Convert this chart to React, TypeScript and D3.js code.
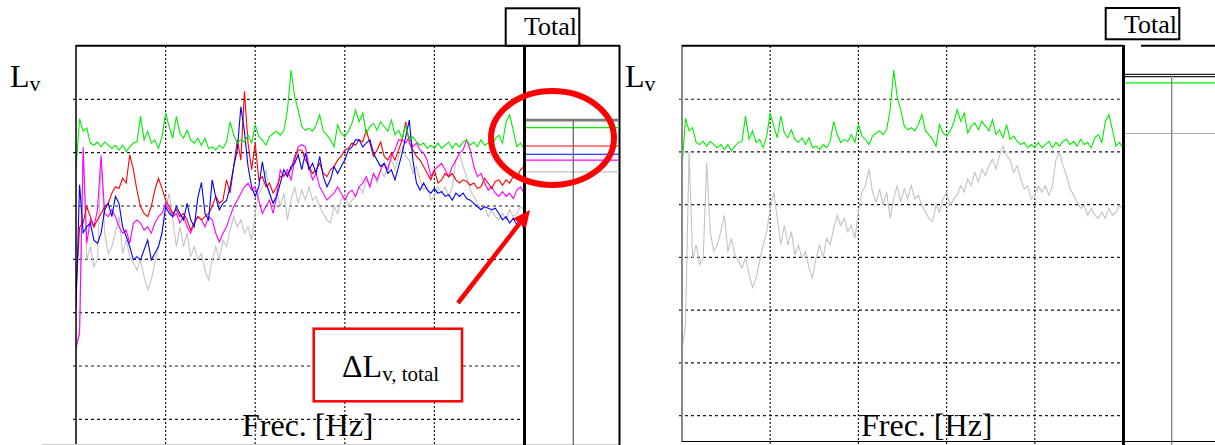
import React from 'react';
import * as d3 from 'd3';

// frequency axis (Hz), 4 Hz resolution
const freqs: number[] = d3.range(126).map((i) => i * 4);
const freqGrid = [100, 200, 300, 400];
const levelGrid = [10, 20, 30, 40, 50, 60, 70];

const green = [
  57, 66.4, 64, 64.6, 61.8, 61.4, 62, 61.1, 62, 61.4,
  60.8, 61.4, 60.5, 61.4, 60.2, 61.1, 61.8, 62, 66.8, 62.4,
  64, 61.8, 62.4, 60.8, 63, 67.4, 64.9, 62.7, 66.8, 63.6,
  62.7, 64.2, 62.4, 61.8, 62.7, 61.4, 62.7, 60.8, 61.1, 60.5,
  61.4, 60.8, 62, 65.8, 63.3, 61.8, 62.4, 62, 63.3, 61.8,
  65.2, 63, 62.4, 61.4, 63, 63.6, 64, 63.3, 64.2, 68,
  75.5, 70.5, 68, 64.9, 64.2, 64.6, 64, 65.2, 67.1, 64,
  63.3, 62.4, 61.1, 65.2, 63.6, 63, 64, 65.5, 68, 65.8,
  67.4, 63.6, 64.9, 65.5, 64.2, 65.8, 64.9, 64, 66.1, 63.3,
  64.2, 62.7, 65.2, 62.4, 63, 62, 61.4, 61.8, 60.8, 61.4,
  60.8, 61.8, 60.8, 61.4, 62, 60.8, 61.8, 61.1, 62, 62.4,
  61.4, 62, 61.1, 62.4, 61.4, 61.8, 60.8, 62.7, 63.3, 61.8,
  65.8, 67.1, 64.2, 61.1, 61.8, 60.8,
];

const red = [
  34, 46, 46.8, 49.9, 48, 46.1, 47.4, 48.6, 49.9, 50.5,
  52.4, 53.6, 53.3, 55.2, 54.3, 59.6, 56.8, 53, 49.9, 48.6,
  48, 49.9, 53, 55.2, 53.3, 51.1, 49.9, 48.6, 49.3, 48,
  48.6, 47.4, 45.5, 46.8, 48, 47.4, 48, 48.6, 49.9, 51.8,
  50.5, 51.1, 54.9, 52.4, 57.4, 62.4, 58.6, 71.5, 61.8, 56.8,
  61.8, 54.9, 55.5, 53.6, 54.3, 52.4, 53.6, 55.5, 55.8, 56.1,
  56.8, 59.3, 60.5, 60.5, 58.6, 57.4, 56.1, 56.8, 58, 56.1,
  55.5, 56.8, 57.4, 58.6, 59.3, 60.5, 60.8, 61.8, 61.4, 62.4,
  62, 64.2, 61.8, 59.3, 60.5, 62, 59.3, 58.6, 59.9, 58.6,
  60.5, 62.4, 65.8, 61.8, 60.5, 59.3, 58.6, 57.4, 56.1, 54.9,
  56.8, 54.3, 54.9, 56.1, 55.5, 56.1, 54.9, 54.3, 54.9, 54.6,
  53.9, 54.3, 53.3, 53.6, 55.2, 54.3, 53.3, 54.6, 54.9, 53.9,
  54.9, 54.3, 55.5, 55.2, 56.8, 57.4,
];

const blue = [
  31, 54, 45, 46.1, 46.8, 43.6, 43, 44.9, 49.3, 50.5,
  48, 51.8, 50.5, 46.1, 44.3, 42.4, 39.9, 40.5, 39.9, 41.8,
  43.6, 39.9, 41.1, 42.4, 44.9, 49.9, 48.6, 48, 49.9, 48.6,
  47.4, 50.5, 47.4, 46.1, 51.6, 54.4, 48.6, 47.4, 54.9, 51.6,
  49.3, 50.5, 51, 53.6, 57.4, 60.5, 68.6, 64, 57.4, 53.6,
  51.8, 53.6, 58.3, 54.3, 52.4, 50.5, 51.8, 54.3, 56.8, 55.5,
  57.4, 58, 59.6, 56.8, 59.9, 56.8, 58, 56.1, 59.3, 55.5,
  53.6, 54.9, 57.4, 56.1, 57.4, 58.6, 60.5, 61.1, 62.4, 62.4,
  61.1, 61.8, 62.4, 59.9, 58.6, 57.4, 58, 56.1, 56.8, 54.9,
  57.4, 59.9, 63, 66.1, 58.6, 54.3, 53, 54.3, 53, 52.4,
  53.3, 52.4, 52.7, 51.8, 52.1, 51.1, 52.4, 51.8, 52.4, 51.4,
  51.1, 50.5, 49.9, 49.3, 49.9, 49.6, 49.3, 49.6, 48.6, 47.4,
  48, 46.8, 47.7, 46.5, 47.8, 45.5,
];

const magenta = [
  23.6, 26.1, 61, 43, 47.4, 46.1, 49.3, 59.5, 48.6, 48,
  49.3, 48, 46.1, 44.9, 45.5, 43, 46.8, 47.4, 46.8, 45.5,
  46.1, 44.9, 46.8, 48, 48.6, 50.5, 49.3, 48, 48.6, 46.8,
  48, 46.1, 44.9, 46.8, 48, 47.4, 46.1, 48, 47.4, 44.9,
  43.3, 44.9, 46.1, 48, 49.9, 51.1, 52.4, 53.6, 54.3, 53,
  53.6, 51.1, 48.6, 49.9, 51.1, 48.6, 51.8, 56.8, 55.5, 56.8,
  54.9, 58.6, 61.1, 61.5, 61.1, 57.4, 54.9, 56.1, 53.6, 52.4,
  51.1, 51.8, 52.4, 53.6, 52.4, 51.1, 52.4, 53, 51.8, 53.6,
  54.3, 55.5, 53.6, 56.1, 54.9, 56.8, 58, 56.8, 59.3, 60.5,
  62.4, 62.4, 61.8, 63, 61.1, 61.8, 60.5, 59.9, 58.6, 55.5,
  56.8, 57.4, 58, 56.8, 55.5, 57.4, 58.6, 59.9, 60.5, 62.4,
  60.5, 57.4, 55.5, 56.1, 54.3, 53, 53.6, 52.4, 51.8, 52.7,
  51.8, 52.4, 51.4, 53, 53.6, 52.4,
];

const gray = [
  22.4, 27.4, 60, 39.9, 42.4, 38.6, 39.9, 58, 44.9, 41.1,
  42.4, 44.9, 48, 41.1, 43.6, 40.5, 39.3, 38, 39.9, 36.8,
  34.3, 36.1, 39.3, 42.4, 44.9, 49.3, 52.4, 47.4, 42.4, 46.1,
  42.4, 44.9, 40.5, 42.4, 39.9, 41.1, 38, 36.1, 39.9, 42.4,
  39.9, 43.6, 42.4, 45.5, 48, 46.1, 47.4, 44.9, 46.1, 43.6,
  48.6, 52.4, 53.6, 56.8, 52.4, 50.5, 53, 49.9, 52.4, 47.4,
  51.1, 53.6, 50.5, 53, 51.1, 53.6, 51.1, 51.8, 49.9, 48.6,
  47.4, 46.8, 49.9, 48.6, 51.1, 52.4, 49.9, 51.1, 51.8, 53.6,
  52.4, 54.9, 53.6, 56.1, 54.3, 56.8, 55.5, 57.4, 58.6, 56.8,
  59.3, 61.1, 59.3, 58.6, 56.1, 57.4, 54.9, 53, 53.6, 51.1,
  51.8, 53.6, 52.4, 53.6, 51.8, 53.6, 58.6, 59.9, 57.4, 55.5,
  53, 51.8, 50.5, 49.3, 49.9, 48, 49.3, 48, 47.4, 48.6,
  47.4, 49.3, 48, 48.6, 49.9, 49.3,
];

// overall ("Total") levels shown in the side strips
const totalKeysLeft = ['ref', 'green', 'red', 'blue', 'magenta', 'gray'];
const totalValsLeft = [66.1, 64.7, 61.25, 59.7, 58.6, 56.4];
const totalKeysRight = ['ref', 'green', 'gray'];
const totalValsRight = [74.5, 73.1, 63.5];

const colors: Record<string, string> = {
  green: '#00ee00',
  red: '#ff0000',
  blue: '#0000ff',
  magenta: '#ff00ff',
  gray: '#c3c3c3',
  ref: '#7a7a7a',
};

const leftSeries = [
  { key: 'gray', values: gray },
  { key: 'magenta', values: magenta },
  { key: 'red', values: red },
  { key: 'blue', values: blue },
  { key: 'green', values: green },
];
const rightSeries = [
  { key: 'gray', values: gray },
  { key: 'green', values: green },
];

const FONT = "'Liberation Serif','Times New Roman',serif";

export default function App() {
  const W = 1215;
  const H = 445;
  const xL = d3.scaleLinear().domain([0, 500]).range([76, 524]);
  const yL = d3.scaleLinear().domain([5, 80]).range([446, 46]);
  const xR = d3.scaleLinear().domain([0, 500]).range([682, 1123]);
  const yR = d3.scaleLinear().domain([5, 80]).range([442, 46.5]);

  const mkLine = (x: d3.ScaleLinear<number, number>, y: d3.ScaleLinear<number, number>) =>
    d3
      .line<number>()
      .x((_, i) => x(freqs[i]))
      .y((d) => y(d));
  const lineL = mkLine(xL, yL);
  const lineR = mkLine(xR, yR);

  // arrow geometry (annotation)
  const a0 = [458, 303];
  const tip = [530, 210];
  const dx = tip[0] - a0[0];
  const dy = tip[1] - a0[1];
  const len = Math.hypot(dx, dy);
  const ux = dx / len;
  const uy = dy / len;
  const hl = 17;
  const hw = 8;
  const bx = tip[0] - ux * hl;
  const by = tip[1] - uy * hl;
  const head = `${tip[0]},${tip[1]} ${bx + uy * hw},${by - ux * hw} ${bx - uy * hw},${by + ux * hw}`;

  const gridStroke = '#1a1a1a';

  return (
    <svg
      width={W}
      height={H}
      style={{ position: 'absolute', left: 0, top: 0, background: '#fff' }}
      fontFamily={FONT}
    >
      <defs>
        <clipPath id="clipL">
          <rect x={76} y={46} width={448} height={400} />
        </clipPath>
        <clipPath id="clipR">
          <rect x={682} y={46} width={441} height={396} />
        </clipPath>
      </defs>
      <rect x={0} y={0} width={W} height={H} fill="#fff" />

      {/* ===== LEFT PANEL ===== */}
      <g>
        {levelGrid.map((v) => (
          <line key={'lh' + v} x1={73} x2={524} y1={yL(v)} y2={yL(v)} stroke={gridStroke} strokeWidth={1.2} strokeDasharray="3,3" />
        ))}
        {freqGrid.map((f) => (
          <line key={'lv' + f} x1={xL(f)} x2={xL(f)} y1={46} y2={H} stroke={gridStroke} strokeWidth={1.2} strokeDasharray="2,2" />
        ))}
        <g clipPath="url(#clipL)">
          {leftSeries.map((s) => (
            <path key={s.key} d={lineL(s.values) || ''} fill="none" stroke={colors[s.key]} strokeWidth={1.1} />
          ))}
        </g>
        {/* frame */}
        <line x1={76} x2={76} y1={45} y2={H} stroke="#000" strokeWidth={1.5} />
        <line x1={76} x2={620} y1={45.7} y2={45.7} stroke="#000" strokeWidth={2} />
        <line x1={42} x2={620} y1={444.5} y2={444.5} stroke="#ccc" strokeWidth={1} />
        <line x1={524.5} x2={524.5} y1={45} y2={H} stroke="#000" strokeWidth={3} />
        <line x1={619.5} x2={619.5} y1={45} y2={H} stroke="#000" strokeWidth={2} />

        {/* Total strip */}
        {totalKeysLeft.map((k, i) => (
          <line
            key={'tl' + k}
            x1={526}
            x2={619}
            y1={yL(totalValsLeft[i])}
            y2={yL(totalValsLeft[i])}
            stroke={colors[k]}
            strokeWidth={k === 'ref' ? 2.6 : 1.2}
          />
        ))}
        <line x1={573.3} x2={573.3} y1={yL(totalValsLeft[0])} y2={H} stroke="#6a6a6a" strokeWidth={1.3} />

        <rect x={505.7} y={8.3} width={73.6} height={37.4} fill="#fff" stroke="#000" strokeWidth={2} />
        <text x={577} y={35} fontSize={26} textAnchor="end" fill="#000">Total</text>

        <text x={10} y={87.3} fontSize={32} fill="#000">
          L<tspan fontSize={22} dy={4}>v</tspan>
        </text>
        <text x={242} y={436} fontSize={32} fill="#000">Frec. [Hz]</text>

        {/* annotation */}
        <ellipse cx={552.5} cy={138} rx={61.5} ry={47} fill="none" stroke="#ff0000" strokeWidth={6} />
        <line x1={a0[0]} y1={a0[1]} x2={bx} y2={by} stroke="#ff0000" strokeWidth={4.5} />
        <polygon points={head} fill="#ff0000" />
        <rect x={313.7} y={328.7} width={148.3} height={72.6} fill="#fff" stroke="#ff0000" strokeWidth={2.5} />
        <text x={342} y={377} fontSize={32} fill="#000">
          ΔL<tspan fontSize={21} dy={4}>v, total</tspan>
        </text>
      </g>

      {/* ===== RIGHT PANEL ===== */}
      <g>
        {levelGrid.map((v) => (
          <line key={'rh' + v} x1={679} x2={1123} y1={yR(v)} y2={yR(v)} stroke={gridStroke} strokeWidth={1.2} strokeDasharray="3,3" />
        ))}
        {freqGrid.map((f) => (
          <line key={'rv' + f} x1={xR(f)} x2={xR(f)} y1={46} y2={H} stroke={gridStroke} strokeWidth={1.2} strokeDasharray="2,2" />
        ))}
        <g clipPath="url(#clipR)">
          {rightSeries.map((s) => (
            <path key={s.key} d={lineR(s.values) || ''} fill="none" stroke={colors[s.key]} strokeWidth={1.1} />
          ))}
        </g>
        <line x1={682} x2={682} y1={45} y2={442} stroke="#888" strokeWidth={2} />
        <line x1={682} x2={1123} y1={45.7} y2={45.7} stroke="#000" strokeWidth={2} />
        <line x1={1141} x2={W} y1={45.7} y2={45.7} stroke="#000" strokeWidth={2} />
        <line x1={682} x2={W} y1={441.5} y2={441.5} stroke="#000" strokeWidth={1} />
        <line x1={1123.5} x2={1123.5} y1={45} y2={H} stroke="#000" strokeWidth={3} />

        {totalKeysRight.map((k, i) =>
          k === 'ref' ? (
            <g key={'tr' + k}>
              <line x1={1125} x2={W} y1={yR(totalValsRight[i]) - 1.2} y2={yR(totalValsRight[i]) - 1.2} stroke="#222" strokeWidth={1.2} />
              <line x1={1125} x2={W} y1={yR(totalValsRight[i]) + 1.2} y2={yR(totalValsRight[i]) + 1.2} stroke="#222" strokeWidth={1.2} />
            </g>
          ) : (
            <line
              key={'tr' + k}
              x1={1125}
              x2={W}
              y1={yR(totalValsRight[i])}
              y2={yR(totalValsRight[i])}
              stroke={k === 'gray' ? '#aaa' : colors[k]}
              strokeWidth={1.2}
            />
          )
        )}
        <line x1={1171.7} x2={1171.7} y1={yR(totalValsRight[0])} y2={H} stroke="#777" strokeWidth={1.2} />

        <rect x={1105.7} y={8} width={73.6} height={31.3} fill="#fff" stroke="#000" strokeWidth={2} />
        <text x={1177} y={33.3} fontSize={26} textAnchor="end" fill="#000">Total</text>

        <text x={625} y={87.3} fontSize={32} fill="#000">
          L<tspan fontSize={22} dy={4}>v</tspan>
        </text>
        <text x={861} y={436} fontSize={32} fill="#000">Frec. [Hz]</text>
      </g>
    </svg>
  );
}
